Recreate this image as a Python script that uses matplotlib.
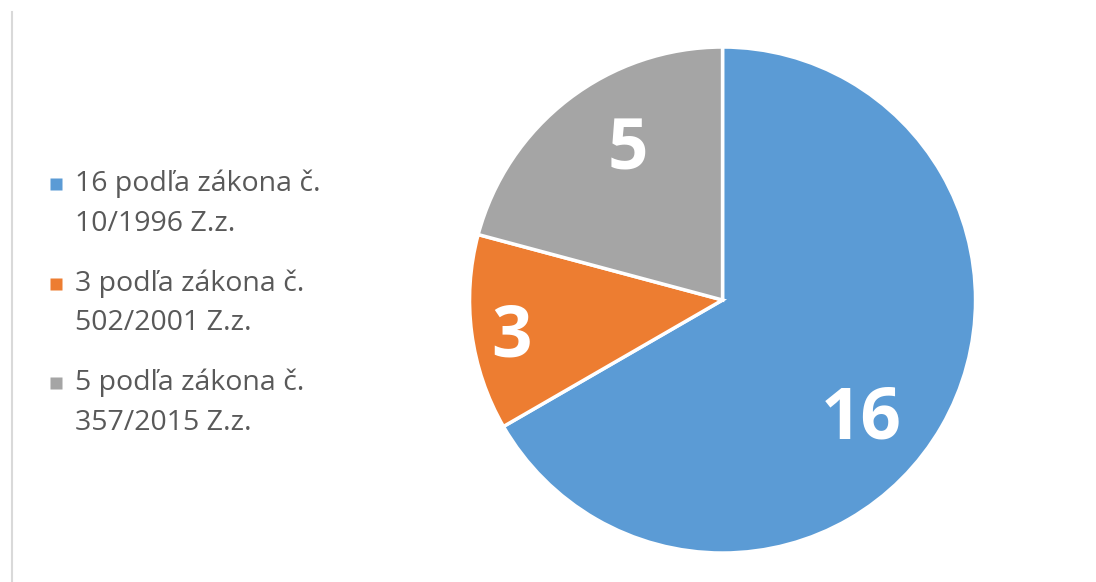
import matplotlib.pyplot as plt
import numpy as np
from matplotlib.lines import Line2D
from matplotlib.path import Path

plt.rcParams['font.family'] = ['Open Sans', 'DejaVu Sans']

# data
values = [16, 3, 5]
labels = ['16 podľa zákona č.\n10/1996 Z.z.',
          '3 podľa zákona č.\n502/2001 Z.z.',
          '5 podľa zákona č.\n357/2015 Z.z.']
colors = ['#5B9BD5', '#ED7D31', '#A5A5A5']

# label placement (radius fraction, angle shift in degrees)
label_radius = [0.71, 0.845, 0.72]
label_shift = [-9.5, 1.0, -6.0]

fig = plt.figure(figsize=(10.96, 5.82), dpi=100)

# thin grey frame line on the left
fig.add_artist(Line2D([12/1096, 12/1096], [0, 1 - 12/582],
                      transform=fig.transFigure, color='#D9D9D9', lw=1.5))

ax = fig.add_axes([0.4284, 0.0498, 0.4617, 0.8694])
wedges, _ = ax.pie(values, colors=colors, startangle=90, counterclock=False,
                   radius=1, wedgeprops=dict(edgecolor='white', linewidth=2.5))
ax.set_xlim(-1, 1)
ax.set_ylim(-1, 1)
ax.set_aspect('equal')
ax.axis('off')

for w, v, r, s in zip(wedges, values, label_radius, label_shift):
    ang = np.deg2rad((w.theta1 + w.theta2) / 2 + s)
    ax.text(r * np.cos(ang), r * np.sin(ang) - 0.022, str(v), ha='center',
            va='center', color='white', fontsize=51, fontweight='bold')

# square marker lifted up so it sits next to the first text line
sq = Path([(-1, 2.6), (1, 2.6), (1, 4.6), (-1, 4.6), (-1, 2.6)])
handles = [Line2D([], [], marker=sq, linestyle='none', markersize=36.8,
                  markerfacecolor=c, markeredgecolor='none') for c in colors]
leg = fig.legend(handles, labels, loc='center left',
                 bbox_to_anchor=(0.02, 0.479), frameon=False,
                 fontsize=20.5, labelcolor='#595959', handlelength=0.6,
                 handletextpad=0.35, labelspacing=1.1)
for t in leg.get_texts():
    t.set_linespacing(1.55)

fig.savefig('out.png', dpi=100)
